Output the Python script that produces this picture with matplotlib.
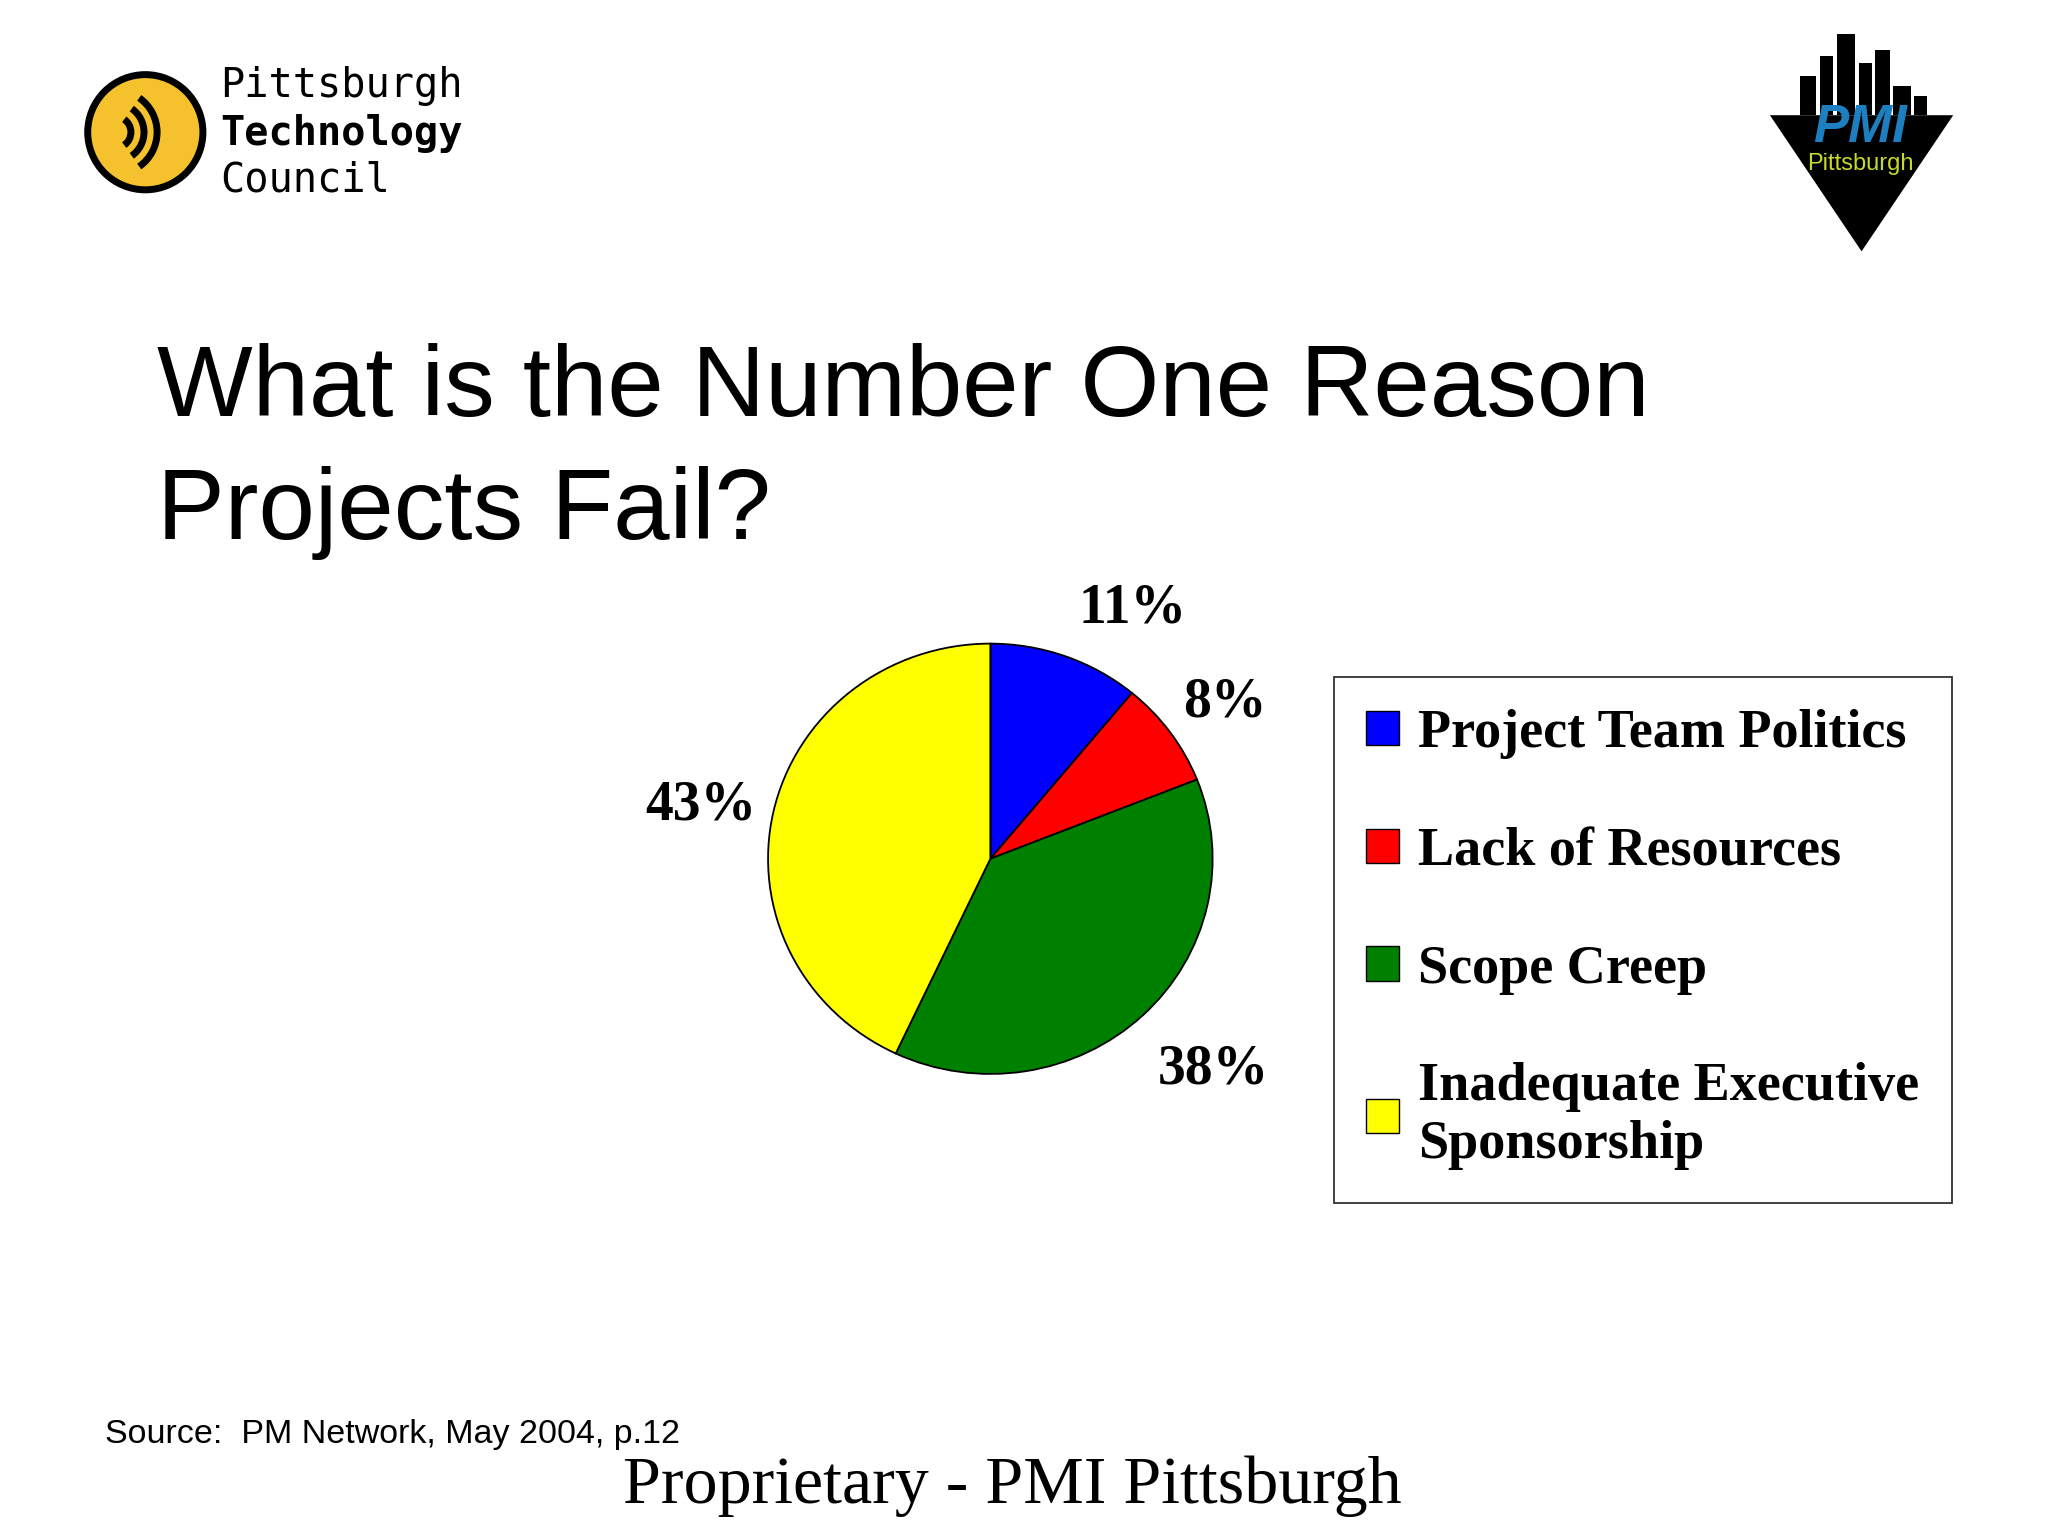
import matplotlib
matplotlib.use("Agg")
import matplotlib.pyplot as plt
from matplotlib.patches import Circle, Polygon, Rectangle

categories = ["Project Team Politics", "Lack of Resources", "Scope Creep",
              "Inadequate Executive\nSponsorship"]
values = [11, 8, 38, 43]
colors = ["#0000FF", "#FF0000", "#008000", "#FFFF00"]
pct_labels = ["11%", "8%", "38%", "43%"]

W, H = 1552.0 * 1.008, 1164.0 * 1.008
fig = plt.figure(figsize=(20.48, 15.36), dpi=100)
fig.patch.set_facecolor("white")

def fx(x): return x / W
def fy(y): return 1 - y / H

ax = fig.add_axes([fx(585), fy(822), fx(928) - fx(585), fy(490) - fy(822)])
wedges, _ = ax.pie(values, colors=colors, startangle=90, counterclock=False,
                   wedgeprops=dict(edgecolor="black", linewidth=1.3))
ax.set_aspect("auto")
ax.set_xlim(-1.01, 1.01); ax.set_ylim(-1.01, 1.01)

lab_pos = [(865, 465), (936, 537), (927, 817), (535, 615)]
for t, (x, y) in zip(pct_labels, lab_pos):
    fig.text(fx(x), fy(y), t, ha="center", va="center", fontsize=40,
             fontweight="bold", family="Liberation Serif")

leg = fig.legend(wedges, categories, loc="upper left",
                 bbox_to_anchor=(fx(1019), fy(517)), frameon=True,
                 fancybox=False, edgecolor="black", handlelength=0.6,
                 handleheight=0.6, labelspacing=1.25, borderpad=0.6,
                 handletextpad=0.35, borderaxespad=0,
                 prop=dict(family="Liberation Serif", weight="bold", size=39))
leg.get_frame().set_linewidth(1.3)
for h in leg.legend_handles:
    h.set_linewidth(1.0)

fig.text(fx(120), fy(298), "What is the Number One Reason",
         ha="left", va="center", fontsize=73, family="Liberation Sans")
fig.text(fx(120), fy(392), "Projects Fail?",
         ha="left", va="center", fontsize=73, family="Liberation Sans")
fig.text(fx(80), fy(1096), "Source:  PM Network, May 2004, p.12",
         ha="left", va="center", fontsize=24.5, family="Liberation Sans")
fig.text(fx(773), fy(1135), "Proprietary - PMI Pittsburgh",
         ha="center", va="center", fontsize=49, family="Liberation Serif")

# Pittsburgh Technology Council logo (approximation)
lax = fig.add_axes([0, 0, 1, 1], facecolor="none")
lax.set_xlim(0, W); lax.set_ylim(H, 0); lax.axis("off")
lax.add_patch(Circle((111, 101), 44, facecolor="#F5C22E", edgecolor="black", lw=5))
for r in (12, 22, 32):
    lax.add_patch(matplotlib.patches.Arc((88, 101), r * 2, r * 2, theta1=-55, theta2=55,
                                         color="black", lw=5))
fig.text(fx(168), fy(66), "Pittsburgh", fontsize=29, va="center", family="DejaVu Sans Mono")
fig.text(fx(168), fy(102), "Technology", fontsize=29, va="center", fontweight="bold",
         family="DejaVu Sans Mono")
fig.text(fx(168), fy(138), "Council", fontsize=29, va="center", family="DejaVu Sans Mono")

# PMI logo (approximation)
lax.add_patch(Polygon([(1352, 88), (1492, 88), (1422, 192)], closed=True,
                      facecolor="black"))
for (x0, w, h) in [(1375, 12, 30), (1390, 10, 45), (1403, 14, 62), (1420, 10, 40),
                   (1432, 12, 50), (1446, 14, 22), (1462, 10, 15)]:
    lax.add_patch(Rectangle((x0, 88 - h), w, h, facecolor="black"))
fig.text(fx(1421), fy(98), "PMI", fontsize=38, fontweight="bold", color="#1E7FC0",
         ha="center", va="center", family="Liberation Sans", style="italic")
fig.text(fx(1421), fy(125), "Pittsburgh", fontsize=17, color="#C8D82A",
         ha="center", va="center", family="Liberation Sans")

fig.savefig("out.png", dpi=100)
